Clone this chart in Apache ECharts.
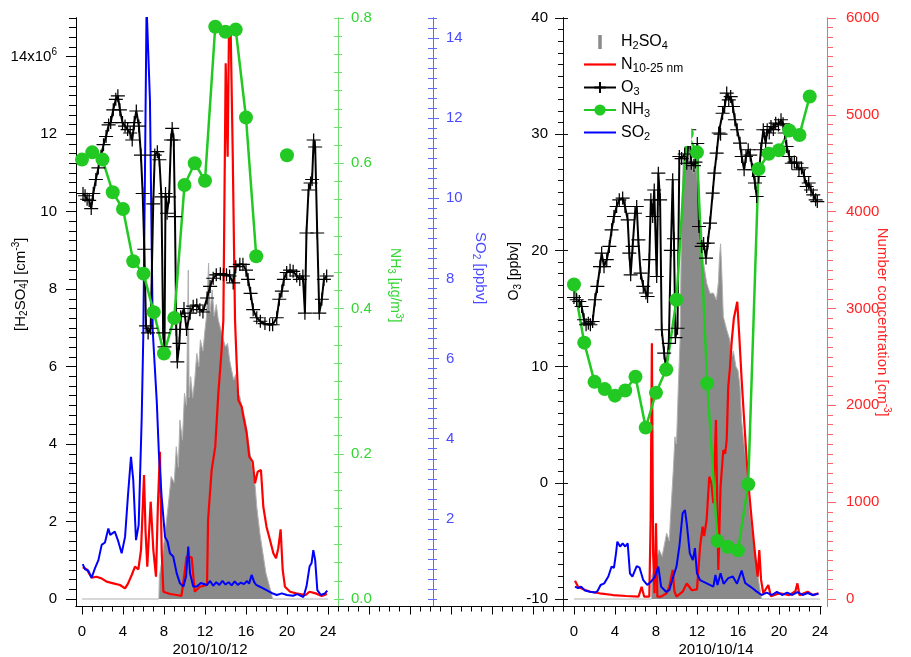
<!DOCTYPE html>
<html><head><meta charset="utf-8">
<script src="https://cdn.jsdelivr.net/npm/echarts@6/dist/echarts.min.js"></script>
<style>html,body{margin:0;padding:0;background:#fff}#c{width:911px;height:657px}</style>
</head><body><div id="c"></div>
<script>
// ---------------- DATA (hours of the day, value) ----------------
// H2SO4 concentration, 10^6 cm-3
const h2so4Oct12 = [[0,0],[7.5,0],[7.55,0.58],[7.8,1.0],[8.1,1.7],[8.4,2.38],[8.7,3.16],[9.0,3.0],[9.2,3.93],[9.4,3.4],[9.55,4.62],[9.8,4.1],[10.0,5.31],[10.2,5.0],[10.37,8.49],[10.45,5.2],[10.6,5.74],[10.8,5.2],[11.0,5.65],[11.2,6.34],[11.4,6.0],[11.55,6.69],[11.8,6.4],[12.0,6.95],[12.15,7.3],[12.35,8.67],[12.5,7.4],[12.7,7.98],[12.9,7.3],[13.1,7.6],[13.3,7.2],[13.5,7.0],[13.7,6.77],[14.0,6.51],[14.2,6.6],[14.4,6.17],[14.6,5.9],[14.8,5.65],[15.0,5.8],[15.2,5.3],[15.4,5.22],[15.6,4.96],[15.85,4.7],[16.05,4.45],[16.3,3.93],[16.6,3.42],[16.9,2.9],[17.05,2.38],[17.35,1.7],[17.65,1.18],[17.95,0.66],[18.3,0.32],[18.6,0],[24,0]];
const h2so4Oct14 = [[0,0],[7.55,0],[7.6,0.6],[7.9,0.83],[8.3,1.27],[8.6,1.1],[9.04,1.7],[9.3,1.5],[9.4,2.04],[9.69,3.33],[9.85,4.19],[10.0,4.0],[10.18,5.48],[10.35,6.69],[10.5,9.87],[10.67,11.42],[10.9,11.2],[11.05,11.42],[11.15,13.49],[11.25,11.3],[11.45,11.33],[11.65,10.99],[11.8,11.2],[11.97,10.99],[12.1,10.65],[12.3,9.44],[12.45,9.6],[12.6,8.75],[12.95,8.15],[13.27,7.89],[13.6,7.9],[13.9,7.72],[14.1,8.2],[14.18,8.75],[14.3,9.17],[14.4,8.6],[14.57,7.29],[14.9,6.95],[15.2,6.69],[15.4,6.26],[15.55,6.4],[15.8,6.0],[16.0,5.9],[16.2,5.48],[16.35,4.62],[16.52,4.19],[16.7,3.76],[16.85,3.42],[17.0,2.81],[17.17,2.21],[17.33,1.87],[17.5,1.52],[17.66,1.18],[17.82,0.83],[18.05,0.41],[18.3,0],[24,0]];
// N 10-25 nm number concentration, cm-3
const n1025Oct12 = [[0.07,327],[0.45,307],[0.94,220],[1.4,230],[1.9,213],[2.4,179],[3.05,162],[3.7,145],[4.2,110],[4.5,162],[4.85,248],[5.17,334],[5.5,307],[5.76,506],[6.05,1281],[6.2,700],[6.37,334],[6.7,1005],[6.96,506],[7.22,230],[7.4,953],[7.6,1521],[7.78,472],[7.94,75],[8.6,52],[9.24,41],[9.7,31],[10.0,265],[10.2,437],[10.7,430],[11.0,75],[11.5,127],[12.2,145],[12.3,816],[12.65,1332],[13.0,1573],[13.3,2124],[13.6,2538],[13.79,2880],[14.02,5532],[14.21,4568],[14.34,5876],[14.5,5910],[14.7,4637],[14.93,2881],[15.09,2434],[15.25,2055],[15.58,1986],[15.75,1883],[16.07,1711],[16.32,1470],[16.65,1418],[16.88,1195],[17.14,1315],[17.46,1332],[17.69,953],[18.0,747],[18.34,609],[18.67,472],[18.93,420],[19.15,524],[19.38,720],[19.58,300],[19.8,127],[20.3,75],[20.9,58],[21.8,41],[22.2,75],[22.8,58],[23.4,31],[23.9,52]];
const n1025Oct14 = [[0.1,189],[0.4,127],[0.9,100],[1.6,75],[2.5,59],[3.8,41],[5.1,31],[6.3,24],[6.6,127],[6.85,24],[7.35,24],[7.48,816],[7.6,2641],[7.72,472],[7.86,59],[8.0,782],[8.13,24],[8.5,24],[9.04,59],[9.3,127],[9.63,300],[9.8,80],[10.0,24],[10.3,50],[10.6,75],[11.0,160],[11.5,90],[12.0,100],[12.3,540],[12.55,747],[12.7,650],[12.94,816],[13.2,1263],[13.4,1200],[13.6,990],[13.85,1849],[14.08,300],[14.3,1160],[14.57,1539],[14.75,1500],[14.9,1642],[15.05,2193],[15.2,2365],[15.4,2675],[15.6,2900],[15.93,3070],[16.13,2709],[16.36,2262],[16.6,1849],[16.85,1435],[17.1,1092],[17.34,816],[17.66,472],[17.92,230],[18.08,506],[18.25,200],[18.47,59],[18.96,145],[19.2,30],[20.1,59],[21.0,40],[21.6,80],[21.8,162],[22.0,40],[22.8,75],[23.3,40],[23.85,59]];
// O3, ppbv
const o3Oct12 = [[0.1,24.9],[0.3,24.7],[0.5,24.4],[0.7,24.3],[0.9,23.6],[1.1,24.9],[1.35,26.1],[1.6,27.1],[1.85,28.1],[2.1,29.1],[2.35,29.8],[2.6,30.8],[2.8,31.0],[3.05,32.1],[3.3,33.0],[3.5,33.3],[3.7,32.1],[3.95,31.0],[4.2,30.7],[4.45,30.4],[4.7,30.1],[4.9,29.5],[5.1,31.0],[5.3,32.0],[5.55,30.7],[5.75,28.2],[5.92,24.9],[6.08,20.1],[6.25,13.5],[6.45,12.9],[6.7,13.3],[6.95,24.0],[7.1,28.2],[7.35,28.5],[7.55,27.8],[7.75,24.6],[7.92,12.9],[8.05,11.7],[8.15,24.9],[8.3,23.2],[8.5,24.6],[8.68,29.5],[8.8,30.5],[8.95,29.5],[9.07,22.9],[9.2,13.2],[9.3,10.4],[9.5,12.0],[9.63,14.3],[9.95,15.0],[10.2,13.2],[10.55,14.6],[10.85,15.2],[11.2,15.3],[11.5,14.9],[11.8,14.7],[12.2,15.9],[12.5,16.9],[12.8,17.6],[13.1,17.9],[13.5,18.0],[13.8,17.9],[14.1,17.9],[14.4,17.8],[14.75,17.2],[15.0,18.6],[15.4,18.8],[15.7,18.8],[16.0,18.3],[16.2,17.5],[16.45,16.3],[16.7,14.9],[17.05,14.2],[17.4,13.9],[17.85,13.7],[18.3,13.6],[18.6,13.6],[19.0,14.2],[19.25,15.8],[19.5,16.5],[19.7,17.5],[19.97,18.1],[20.3,18.3],[20.6,18.2],[20.95,17.8],[21.25,17.5],[21.55,17.8],[21.75,14.6],[21.9,21.5],[22.1,25.2],[22.3,25.8],[22.45,26.1],[22.6,29.5],[22.75,28.9],[22.95,21.5],[23.15,14.6],[23.4,15.8],[23.6,17.5],[23.87,17.8]];
const o3Oct14 = [[0.0,15.95],[0.26,15.75],[0.52,15.6],[0.75,15.17],[0.98,14.03],[1.18,13.6],[1.4,13.74],[1.6,13.6],[1.82,13.88],[2.05,15.75],[2.28,16.9],[2.54,18.6],[2.7,19.77],[2.93,18.6],[3.2,19.2],[3.45,20.34],[3.67,21.77],[3.9,22.92],[4.16,23.78],[4.42,24.35],[4.75,24.5],[4.98,23.78],[5.24,22.63],[5.4,19.77],[5.53,17.9],[5.72,20.34],[5.95,23.2],[6.12,23.78],[6.28,20.9],[6.5,18.05],[6.76,16.9],[7.02,16.33],[7.18,16.03],[7.35,19.2],[7.5,24.35],[7.68,22.92],[7.83,25.2],[8.07,17.75],[8.23,26.65],[8.4,24.35],[8.56,13.17],[8.8,11.16],[9.0,9.72],[9.25,12.0],[9.45,20.0],[9.63,26.08],[9.75,21.0],[9.9,12.5],[10.1,13.3],[10.28,28.08],[10.5,27.9],[10.8,28.3],[11.0,27.5],[11.25,30.38],[11.45,27.5],[11.7,27.3],[11.85,27.6],[12.03,29.2],[12.2,22.06],[12.46,20.34],[12.65,20.6],[12.88,19.34],[13.05,20.63],[13.27,22.35],[13.53,24.93],[13.7,26.65],[13.92,28.37],[14.12,30.1],[14.3,30.0],[14.5,31.8],[14.7,32.38],[14.9,33.54],[15.1,32.96],[15.29,33.24],[15.5,32.38],[15.7,31.24],[15.92,30.38],[16.2,29.23],[16.36,28.08],[16.6,26.94],[16.78,28.08],[17.0,28.66],[17.2,28.2],[17.43,26.94],[17.66,25.8],[17.82,24.64],[18.02,26.36],[18.24,28.66],[18.47,30.38],[18.7,29.23],[18.85,30.38],[19.05,30.1],[19.22,30.66],[19.45,30.4],[19.68,30.95],[19.95,30.8],[20.2,31.24],[20.4,30.9],[20.55,30.1],[20.75,28.94],[21.0,28.08],[21.25,27.5],[21.5,27.6],[21.72,27.5],[21.95,26.94],[22.2,27.1],[22.47,26.36],[22.7,25.5],[22.9,25.8],[23.12,25.2],[23.35,24.78],[23.58,24.35],[23.74,24.2]];
// NH3, ug/m3 (hourly)
const nh3Oct12 = [[0,0.605],[1,0.615],[2,0.605],[3,0.560],[4,0.537],[5,0.465],[6,0.448],[7,0.395],[8,0.338],[9,0.387],[10,0.570],[11,0.600],[12,0.576],[13,0.788],[14,0.781],[15,0.784],[16,0.663],[17,0.472],[18,null],[19,null],[20,0.611],[21,null]];
const nh3Oct14 = [[0,0.433],[1,0.353],[2,0.299],[3,0.289],[4,0.280],[5,0.287],[6,0.306],[7,0.236],[8,0.284],[9,0.316],[10,0.412],[11,0.641],[12,0.615],[13,0.297],[14,0.080],[15,0.072],[16,0.067],[17,0.158],[18,0.592],[19,0.613],[20,0.618],[21,0.645],[22,0.639],[23,0.692]];
// SO2, ppbv
const so2Oct12 = [[0.07,0.87],[0.3,0.74],[0.6,0.71],[0.94,0.53],[1.27,0.77],[1.6,0.97],[1.92,1.35],[2.24,1.41],[2.57,1.76],[2.75,1.6],[2.9,1.64],[3.2,1.68],[3.5,1.47],[3.87,1.14],[4.2,1.55],[4.5,2.64],[4.78,3.55],[5.0,2.97],[5.27,1.47],[5.53,1.85],[5.82,4.47],[5.98,6.55],[6.15,10.8],[6.3,14.8],[6.45,14.8],[6.63,12.45],[6.9,6.7],[7.12,5.71],[7.3,4.9],[7.5,3.64],[7.77,2.55],[8.1,1.55],[8.35,1.43],[8.58,1.14],[8.9,1.06],[9.24,0.64],[9.56,0.39],[9.9,0.31],[10.15,0.56],[10.37,1.31],[10.54,0.64],[10.85,0.31],[11.2,0.31],[11.6,0.4],[12.2,0.35],[12.5,0.45],[12.8,0.33],[13.1,0.42],[13.4,0.35],[13.7,0.45],[14.0,0.36],[14.3,0.42],[14.6,0.34],[14.9,0.44],[15.2,0.35],[15.5,0.41],[15.8,0.37],[16.1,0.45],[16.3,0.38],[16.55,0.6],[16.8,0.42],[17.0,0.35],[17.4,0.3],[18.0,0.22],[18.5,0.15],[19.0,0.1],[19.5,0.14],[20.0,0.1],[20.6,0.08],[21.0,0.12],[21.6,0.05],[21.9,0.31],[22.2,0.81],[22.4,0.9],[22.57,1.22],[22.75,0.97],[22.96,0.22],[23.3,0.1],[23.7,0.14],[23.93,0.21]];
const so2Oct14 = [[0.1,0.31],[0.4,0.27],[0.7,0.31],[1.07,0.21],[1.56,0.18],[2.05,0.16],[2.3,0.2],[2.6,0.35],[2.95,0.39],[3.35,0.56],[3.67,0.81],[3.9,0.78],[4.1,1.14],[4.23,1.43],[4.5,1.31],[4.75,1.39],[5.0,1.31],[5.24,1.39],[5.46,0.64],[5.7,0.56],[6.12,0.82],[6.4,0.78],[6.76,0.47],[7.15,0.35],[7.5,0.43],[7.9,0.56],[8.23,0.81],[8.5,0.31],[8.98,0.18],[9.3,0.22],[9.69,0.56],[10.0,0.81],[10.28,1.31],[10.6,2.14],[10.83,2.22],[11.0,1.89],[11.3,1.14],[11.6,0.97],[11.8,1.27],[12.0,0.64],[12.3,0.47],[12.95,0.39],[13.6,0.31],[13.8,0.6],[14.0,0.35],[14.3,0.64],[14.6,0.38],[15.05,0.52],[15.5,0.56],[15.9,0.38],[16.36,0.71],[16.7,0.4],[17.2,0.31],[17.7,0.21],[18.3,0.1],[18.8,0.16],[19.3,0.1],[19.8,0.18],[20.3,0.1],[20.8,0.16],[21.3,0.1],[21.8,0.17],[22.3,0.1],[22.8,0.15],[23.3,0.1],[23.85,0.13]];

// ---------------- TICKS / LABELS ----------------
const dayLabels = ['2010/10/12', '2010/10/14'];
const hourLabels = [0, 4, 8, 12, 16, 20, 24];
const DAY14 = 48; // hours between 2010/10/12 00:00 and 2010/10/14 00:00
const h2so4Labels = [0, 2, 4, 6, 8, 10, 12, 14];
const nh3Labels = [0, 0.2, 0.4, 0.6, 0.8];
const so2Labels = [2, 4, 6, 8, 10, 12, 14];
const o3Labels = [-10, 0, 10, 20, 30, 40];
const numLabels = [0, 1000, 2000, 3000, 4000, 5000, 6000];

function range(a, b, step) { const r = []; const n = Math.round((b - a) / step); for (let i = 0; i <= n; i++) r.push(+(a + i * step).toFixed(4)); return r; }
function join(d12, d14) { return d12.concat([[36, null]], d14.map(p => [p[0] + DAY14, p[1]])); }

const FONT = 'Liberation Sans, Arial, Helvetica, sans-serif';
function richFor(color) {
  return {
    s: { color, fontSize: 10, fontFamily: FONT, padding: [8, 0, 0, 0] },
    p: { color, fontSize: 10, fontFamily: FONT, padding: [0, 0, 9, 0] }
  };
}

const Y = {
  h2so4: { min: -0.19363, max: 15 },
  nh3: { min: -0.010327, max: 0.8 },
  so2: { min: -0.18718, max: 14.5 },
  o3: { min: -10.64544, max: 40 },
  num: { min: -77.45, max: 6000 }
};

// an extra axis that only draws a set of ticks on top of a main axis
function tickAxis(base, position, offset, color, values, length, inside) {
  return {
    type: 'value', gridIndex: 0, min: base.min, max: base.max, position, offset,
    nameMoveOverlap: false,
    splitLine: { show: false },
    axisLine: { show: true, onZero: false, lineStyle: { color, width: 1 } },
    axisTick: { show: true, inside: !!inside, length, customValues: values, lineStyle: { color, width: 1 } },
    axisLabel: { show: false }
  };
}
function mainAxis(base, position, offset, color, textColor, tickValues, tickLen, labelValues, margin, formatter, name, nameGap, nameRotate, namePadding, nameSize) {
  const a = {
    type: 'value', gridIndex: 0, min: base.min, max: base.max, position, offset,
    nameMoveOverlap: false,
    splitLine: { show: false },
    axisLine: { show: true, onZero: false, lineStyle: { color, width: 1 } },
    axisTick: { show: true, length: tickLen, customValues: tickValues, lineStyle: { color, width: 1 } },
    axisLabel: { show: true, customValues: labelValues, margin, color: textColor, fontSize: 15, fontFamily: FONT, formatter, rich: richFor(textColor) },
    name, nameLocation: 'middle', nameGap,
    nameTextStyle: { fontSize: nameSize, fontFamily: FONT, color: textColor, rich: richFor(textColor), padding: namePadding }
  };
  if (nameRotate != null) a.nameRotate = nameRotate;
  return a;
}

const C = { nh3Axis: '#6fe06f', nh3Text: '#33d633', so2Axis: '#5b6cff', so2Text: '#4a4aff', numAxis: '#ff6262', numText: '#ff2424', black: '#000', o3Axis: '#111' };
const OFF = { h2so4: 0, nh3: -483, so2: -388, o3: -487, num: 6 };

const yAxes = [
  // 0 H2SO4
  mainAxis(Y.h2so4, 'left', OFF.h2so4, C.black, C.black, range(0, 15, 0.25), 7, h2so4Labels, 19,
    v => v === 14 ? '14x10{p|6}' : String(v), '[H{s|2}SO{s|4}] [cm{p|-3}]', 46, null, [0, 0, 0, 56], 15),
  // 1 H2SO4 major ticks
  tickAxis(Y.h2so4, 'left', OFF.h2so4, C.black, h2so4Labels, 10),
  // 2 NH3
  mainAxis(Y.nh3, 'right', OFF.nh3, C.nh3Axis, C.nh3Text, range(0, 0.8, 0.025), 4, nh3Labels, 13,
    v => v.toFixed(1), 'NH{s|3} [µg/m{p|3}]', 47, -90, [0, 54, 0, 0], 14),
  // 3 NH3 inward ticks
  tickAxis(Y.nh3, 'right', OFF.nh3, C.nh3Axis, range(0, 0.8, 0.025), 4, true),
  // 4 NH3 major ticks
  tickAxis(Y.nh3, 'right', OFF.nh3, C.nh3Axis, nh3Labels, 6),
  // 5 SO2
  mainAxis(Y.so2, 'right', OFF.so2, C.so2Axis, C.so2Text, range(0, 14.5, 0.25), 4, so2Labels, 13,
    v => String(v), 'SO{s|2} [ppbv]', 38, -90, [0, 88, 0, 0], 15),
  // 6 SO2 inward ticks
  tickAxis(Y.so2, 'right', OFF.so2, C.so2Axis, range(0, 14.5, 0.25), 5, true),
  // 7 SO2 major ticks
  tickAxis(Y.so2, 'right', OFF.so2, C.so2Axis, so2Labels, 6),
  // 8 O3
  mainAxis(Y.o3, 'left', OFF.o3, C.o3Axis, C.black, range(-10, 40, 1), 5, o3Labels, 15,
    v => String(v), 'O{s|3} [ppbv]', 40, null, [0, 0, 0, 82], 14),
  // 9 O3 major ticks
  tickAxis(Y.o3, 'left', OFF.o3, C.o3Axis, o3Labels, 8),
  // 10 O3 major ticks inward
  tickAxis(Y.o3, 'left', OFF.o3, C.o3Axis, o3Labels, 5, true),
  // 11 Number concentration
  mainAxis(Y.num, 'right', OFF.num, C.numAxis, C.numText, range(0, 6000, 100), 6, numLabels, 19,
    v => String(v), 'Number concentration [cm{p|-3}]', 46, -90, [0, 0, 0, 20], 15),
  // 12 Number concentration major ticks
  tickAxis(Y.num, 'right', OFF.num, C.numAxis, numLabels, 9)
];

const xMin = -0.585, xMax = 72.1;
const xLabelValues = hourLabels.concat(hourLabels.map(h => h + DAY14));
const xAxes = [
  { type: 'value', gridIndex: 0, min: xMin, max: xMax, position: 'bottom',
    splitLine: { show: false },
    axisLine: { show: true, onZero: false, lineStyle: { color: '#000', width: 1 } },
    axisTick: { show: true, length: 5, customValues: range(0, 72, 1), lineStyle: { color: '#000' } },
    axisLabel: { show: true, customValues: xLabelValues, margin: 18, color: '#000', fontSize: 15, fontFamily: FONT,
      formatter: v => String(v >= DAY14 ? v - DAY14 : v) } },
  { type: 'value', gridIndex: 0, min: xMin, max: xMax, position: 'bottom',
    splitLine: { show: false },
    axisLine: { show: true, onZero: false, lineStyle: { color: '#000', width: 1 } },
    axisTick: { show: true, length: 8, customValues: range(0, 72, 4), lineStyle: { color: '#000' } },
    axisLabel: { show: false } }
];

const legendText = {
  'H2SO4': 'H{s|2}SO{s|4}',
  'N10-25 nm': 'N{n|10-25 nm}',
  'O3': 'O{s|3}',
  'NH3': 'NH{s|3}',
  'SO2': 'SO{s|2}'
};

const option = {
  animation: false,
  backgroundColor: '#fff',
  grid: [{ left: 76, top: 18, width: 745, height: 588.5, containLabel: false, outerBoundsMode: 'none' }],
  xAxis: xAxes,
  yAxis: yAxes,
  legend: {
    left: 578, top: 30, orient: 'vertical', itemWidth: 32, itemHeight: 14, itemGap: 5,
    backgroundColor: '#fff', padding: [4, 8, 4, 5],
    textStyle: { fontSize: 16, fontFamily: FONT, color: '#000',
      rich: { s: { fontSize: 11, fontFamily: FONT, padding: [8, 0, 0, 0] }, n: { fontSize: 12, fontFamily: FONT, padding: [8, 0, 0, 0] } } },
    formatter: name => legendText[name] || name,
    data: [
      { name: 'H2SO4', icon: 'path://M0,0h1v4h-1z', itemStyle: { color: '#8a8a8a' } },
      { name: 'N10-25 nm', icon: 'path://M0,0h32v2.2h-32z', itemStyle: { color: '#ff0000' } },
      'O3',
      'NH3',
      { name: 'SO2', icon: 'path://M0,0h32v2h-32z', itemStyle: { color: '#0000ff' } }
    ]
  },
  graphic: [
    { type: 'text', x: 210, y: 650, style: { text: dayLabels[0], fontSize: 15, fontFamily: FONT, fill: '#000', align: 'center', verticalAlign: 'middle' } },
    { type: 'text', x: 716, y: 650, style: { text: dayLabels[1], fontSize: 15, fontFamily: FONT, fill: '#000', align: 'center', verticalAlign: 'middle' } }
  ],
  series: [
    { name: 'H2SO4', type: 'line', xAxisIndex: 0, yAxisIndex: 0, data: join(h2so4Oct12, h2so4Oct14),
      symbol: 'none', color: '#8a8a8a', lineStyle: { color: '#b0b0b0', width: 1 },
      areaStyle: { color: '#8a8a8a', opacity: 1 } },
    { name: 'N10-25 nm', type: 'line', xAxisIndex: 0, yAxisIndex: 11, data: join(n1025Oct12, n1025Oct14),
      symbol: 'none', color: '#ff0000', lineStyle: { width: 2.2 } },
    { name: 'SO2', type: 'line', xAxisIndex: 0, yAxisIndex: 5, data: join(so2Oct12, so2Oct14),
      symbol: 'none', color: '#0000ff', lineStyle: { width: 2 } },
    { name: 'O3', type: 'line', xAxisIndex: 0, yAxisIndex: 8, data: join(o3Oct12, o3Oct14),
      symbol: 'path://M5,0L5,10M0,5L10,5', symbolSize: [14, 13], color: '#000',
      lineStyle: { width: 2, color: '#000' }, itemStyle: { color: '#000', borderColor: '#000', borderWidth: 1.2 } },
    { name: 'NH3', type: 'line', xAxisIndex: 0, yAxisIndex: 2, data: join(nh3Oct12, nh3Oct14),
      symbol: 'circle', symbolSize: 14, color: '#22c922', lineStyle: { width: 2.5 } }
  ]
};

const chart = echarts.init(document.getElementById('c'), null, { renderer: 'canvas', width: 911, height: 657 });
chart.setOption(option);
</script></body></html>
